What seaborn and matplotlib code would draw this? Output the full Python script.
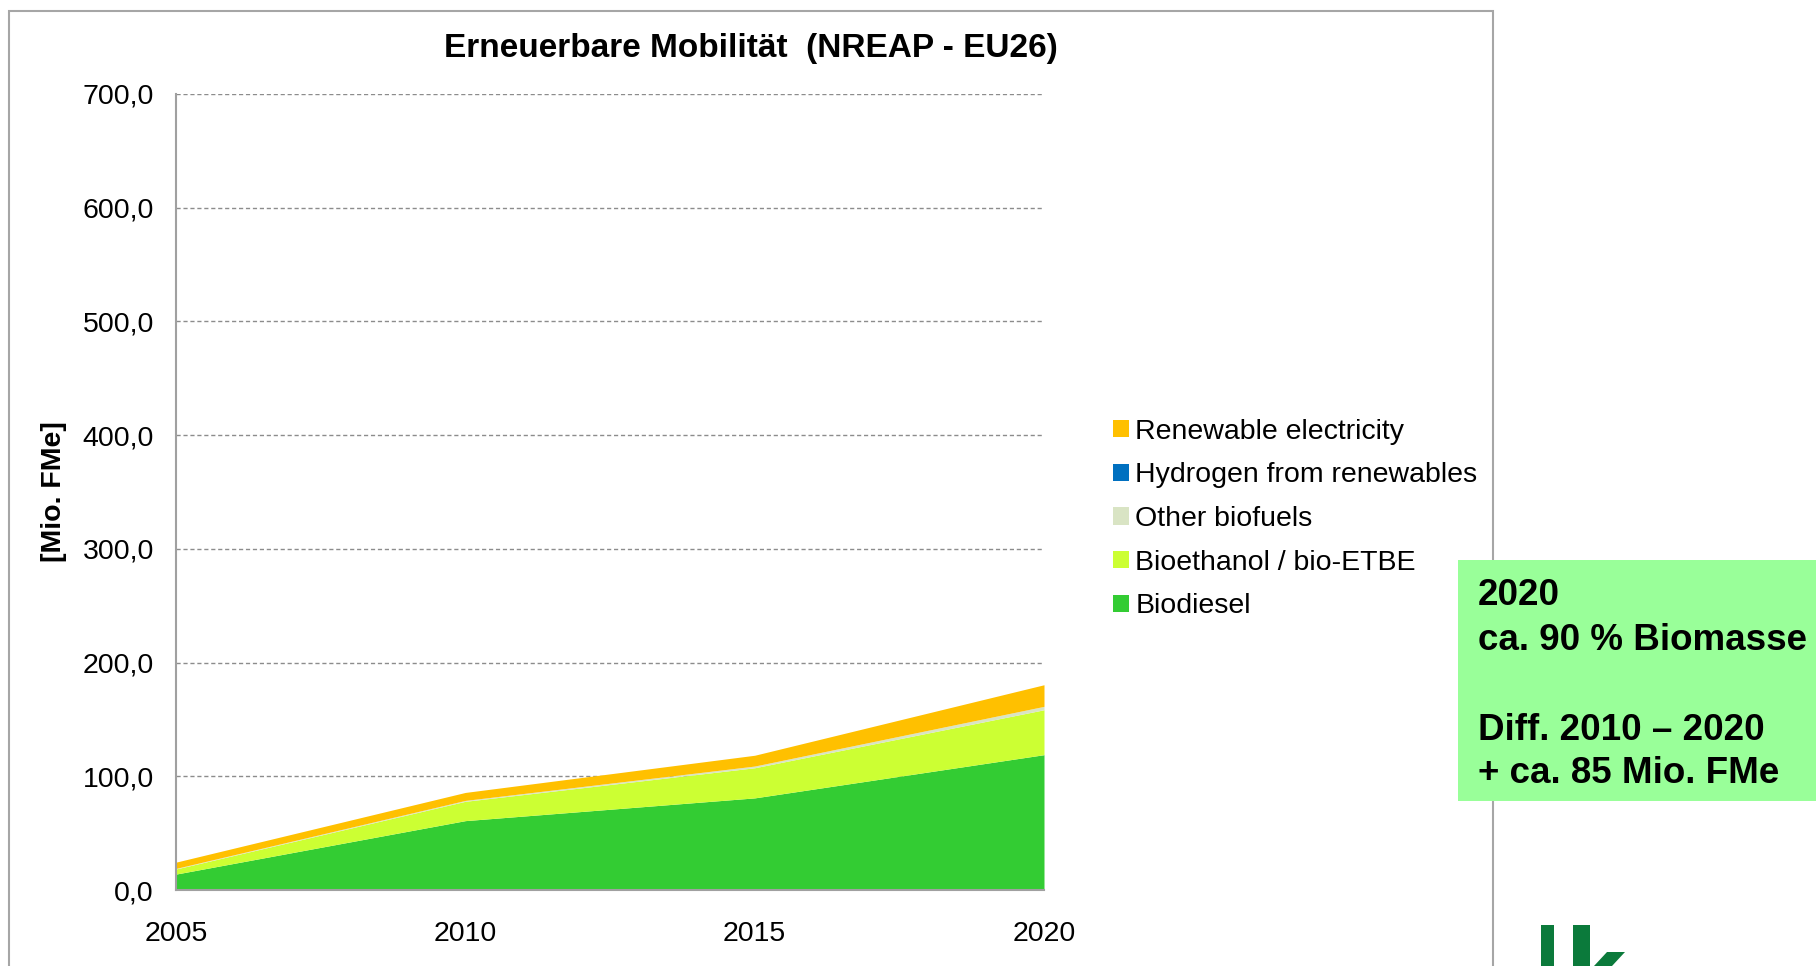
import matplotlib
matplotlib.use("Agg")
import matplotlib.pyplot as plt
import seaborn as sns
from matplotlib.patches import Patch, Rectangle, Polygon
from matplotlib.ticker import FuncFormatter, MultipleLocator

# Daten (Mio. FMe)
years = [2005, 2010, 2015, 2020]
biodiesel = [14, 61, 81, 119]
bioethanol = [4.5, 17, 26.5, 39.5]
other_biofuels = [0.5, 0.8, 1.5, 3.0]
hydrogen = [0, 0, 0, 0]
electricity = [5.5, 7.0, 9.5, 19.0]

series_names = ["Biodiesel", "Bioethanol / bio-ETBE", "Other biofuels",
                "Hydrogen from renewables", "Renewable electricity"]
series_colors = ["#33CC33", "#CCFF33", "#D9E4C4", "#0070C0", "#FFC000"]

title = "Erneuerbare Mobilität  (NREAP - EU26)"
ylabel = "[Mio. FMe]"
box_lines = ["2020", "ca. 90 % Biomasse", "Diff. 2010 \u2013 2020", "+ ca. 85 Mio. FMe"]

sns.set_style("white")
plt.rcParams["font.family"] = ["Liberation Sans", "DejaVu Sans"]
plt.rcParams["text.color"] = "black"

W, H = 1816, 966
fig = plt.figure(figsize=(W / 100, H / 100), dpi=100)

# Rahmen des Diagrammbereichs
fig.patches.append(Rectangle((9 / W, -0.05), (1493 - 9) / W, 1.05 - 11 / H,
                             transform=fig.transFigure, fill=False,
                             edgecolor="#A6A6A6", linewidth=1.5, zorder=0))

ax = fig.add_axes([176 / W, (H - 890) / H, (1044 - 176) / W, (890 - 94) / H])
ax.stackplot(years, biodiesel, bioethanol, other_biofuels, hydrogen, electricity,
             colors=series_colors, linewidth=0)

ax.set_xlim(2005, 2020)
ax.set_ylim(0, 700)
ax.set_xticks(years)
ax.yaxis.set_major_locator(MultipleLocator(100))
ax.yaxis.set_major_formatter(FuncFormatter(lambda v, p: f"{v:.1f}".replace(".", ",")))
ax.tick_params(axis="both", length=0, labelsize=20.5, colors="black")
ax.tick_params(axis="y", pad=16)
ax.tick_params(axis="x", pad=22.5)

ax.grid(axis="y", color="#8C8C8C", linestyle=(0, (3, 2)), linewidth=1)
ax.grid(axis="x", visible=False)
ax.set_axisbelow(True)
for side in ["top", "right"]:
    ax.spines[side].set_visible(False)
for side in ["left", "bottom"]:
    ax.spines[side].set_color("#A0A0A0")
    ax.spines[side].set_linewidth(1.5)

fig.text(751 / W, 1 - 48 / H, title, ha="center", va="center",
         fontsize=24, fontweight="bold")
fig.text(54 / W, 1 - 492 / H, ylabel, ha="center", va="center", rotation=90,
         fontsize=20.5, fontweight="bold")

# Legende (Reihenfolge wie im Original: oben Strom, unten Biodiesel)
handles = [Patch(facecolor=c, edgecolor="none", label=n)
           for n, c in zip(series_names, series_colors)][::-1]
fig.legend(handles=handles, loc="center left",
           bbox_to_anchor=(1099 / W, 1 - 519 / H), frameon=False,
           fontsize=20.5, handlelength=0.55, handleheight=0.55,
           handletextpad=0.22, labelspacing=0.62, borderpad=0)

# grüner Textkasten
fig.patches.append(Rectangle((1458 / W, 1 - 801 / H), (W - 1458) / W, (801 - 560) / H,
                             transform=fig.transFigure, facecolor="#99FF99",
                             edgecolor="none", zorder=2))
for txt, base in zip(box_lines, [605, 650, 740, 783]):
    fig.text(1478 / W, 1 - base / H, txt, ha="left", va="baseline",
             fontsize=26.5, fontweight="bold", zorder=3)

# Logo-Ausschnitt unten rechts
logo_green = "#0B7A3B"
fig.patches.append(Rectangle((1541 / W, 0), 13 / W, (H - 925) / H,
                             transform=fig.transFigure, facecolor=logo_green,
                             edgecolor="none"))
fig.patches.append(Rectangle((1573 / W, 0), 17 / W, (H - 925) / H,
                             transform=fig.transFigure, facecolor=logo_green,
                             edgecolor="none"))
fig.patches.append(Polygon([(1594 / W, 0), (1612 / W, 0), (1625 / W, 1 - 952 / H),
                            (1607 / W, 1 - 952 / H)], closed=True,
                           transform=fig.transFigure, facecolor=logo_green,
                           edgecolor="none"))

fig.savefig("out.png", dpi=100)
